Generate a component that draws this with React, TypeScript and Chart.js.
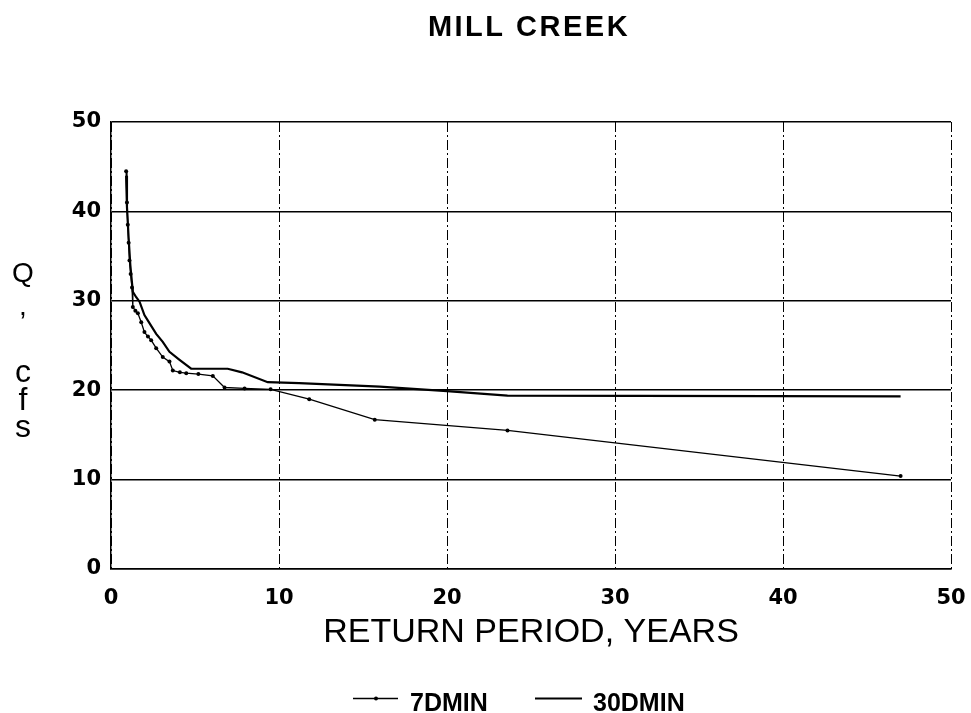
import React, { useEffect, useRef } from "react";
import { Chart, registerables } from "chart.js";

Chart.register(...registerables);

const TITLE = "MILL CREEK";
const X_TITLE = "RETURN PERIOD, YEARS";
const Y_LABEL = ["Q", ",", "c", "f", "s"];
const SERIES_NAMES = ["7DMIN", "30DMIN"];

const X_TICKS = [0, 10, 20, 30, 40, 50];
const Y_TICKS = [0, 10, 20, 30, 40, 50];

// 7DMIN (thin line with dot markers)
const x7 = [0.9, 0.95, 1.0, 1.05, 1.1, 1.17, 1.25, 1.3, 1.45, 1.6, 1.8, 1.99, 2.2, 2.39, 2.69, 3.08, 3.48, 3.68, 4.1, 4.48, 5.2, 6.06, 6.76, 7.95, 9.5, 11.8, 15.7, 23.6, 47.0];
const y7 = [44.5, 41.0, 38.5, 36.5, 34.5, 33.0, 31.5, 29.3, 28.9, 28.6, 27.6, 26.5, 26.0, 25.6, 24.7, 23.7, 23.2, 22.2, 22.0, 21.9, 21.8, 21.6, 20.3, 20.2, 20.1, 19.0, 16.7, 15.5, 10.4];

// 30DMIN (thicker plain line)
const x30 = [0.9, 0.95, 1.05, 1.15, 1.3, 1.5, 1.7, 1.99, 2.29, 2.69, 3.08, 3.48, 4.08, 4.77, 5.9, 6.95, 7.8, 9.33, 11.2, 16.0, 20.0, 23.6, 47.0];
const y30 = [44.0, 40.5, 37.0, 34.0, 31.0, 30.4, 29.9, 28.4, 27.5, 26.3, 25.4, 24.3, 23.4, 22.4, 22.4, 22.4, 22.0, 20.9, 20.8, 20.4, 19.9, 19.4, 19.3];

const FONT = "'Liberation Sans', Arial, Helvetica, sans-serif";
const TICK_FONT = "'DejaVu Sans', 'Liberation Sans', sans-serif";

const textPlugin = {
  id: "textPlugin",
  afterDraw(chart: any) {
    const ctx = chart.ctx as CanvasRenderingContext2D;
    const area = chart.chartArea;
    ctx.save();
    ctx.fillStyle = "#000";
    ctx.strokeStyle = "#000";

    // Title
    ctx.font = `bold 29px ${FONT}`;
    (ctx as any).letterSpacing = "2.5px";
    ctx.textAlign = "center";
    ctx.textBaseline = "alphabetic";
    ctx.fillText(TITLE, (area.left + area.right) / 2 - 2, 36);
    (ctx as any).letterSpacing = "0px";

    // Y label (stacked characters)
    const sizes = [28, 28, 32, 32, 32];
    const baselines = [282, 315, 381.5, 410, 436.5];
    Y_LABEL.forEach((ch, i) => {
      ctx.font = `${sizes[i]}px ${FONT}`;
      ctx.fillText(ch, 23, baselines[i]);
    });

    // Legend
    ctx.textAlign = "left";
    ctx.font = `bold 25px ${FONT}`;
    // 7DMIN
    ctx.lineWidth = 1.3;
    ctx.beginPath();
    ctx.moveTo(353, 698.5);
    ctx.lineTo(398, 698.5);
    ctx.stroke();
    ctx.beginPath();
    ctx.arc(376, 698.5, 2, 0, Math.PI * 2);
    ctx.fill();
    ctx.fillText(SERIES_NAMES[0], 410, 710.5);
    // 30DMIN
    ctx.lineWidth = 2.2;
    ctx.beginPath();
    ctx.moveTo(535, 698.5);
    ctx.lineTo(582, 698.5);
    ctx.stroke();
    ctx.fillText(SERIES_NAMES[1], 593, 710.5);

    ctx.restore();
  },
};

export default function App() {
  const ref = useRef<HTMLCanvasElement | null>(null);

  useEffect(() => {
    if (!ref.current) return;
    const chart = new Chart(ref.current, {
      type: "line",
      data: {
        datasets: [
          {
            label: SERIES_NAMES[0],
            data: x7.map((x, i) => ({ x, y: y7[i] })),
            borderColor: "#000",
            backgroundColor: "#000",
            borderWidth: 1.3,
            pointRadius: 2,
            pointBorderWidth: 0,
            pointBackgroundColor: "#000",
            tension: 0,
          },
          {
            label: SERIES_NAMES[1],
            data: x30.map((x, i) => ({ x, y: y30[i] })),
            borderColor: "#000",
            backgroundColor: "#000",
            borderWidth: 2.2,
            pointRadius: 0,
            tension: 0,
          },
        ],
      },
      options: {
        animation: false,
        responsive: false,
        maintainAspectRatio: false,
        layout: { padding: { top: 122, left: 0, right: 20, bottom: 56 } },
        plugins: {
          legend: { display: false },
          title: { display: false },
          tooltip: { enabled: false },
        },
        scales: {
          x: {
            type: "linear",
            min: 0,
            max: 50,
            afterBuildTicks: (s: any) => {
              s.ticks = X_TICKS.map((v) => ({ value: v }));
            },
            afterFit: (s: any) => {
              s.height = 88;
              s.paddingLeft = 0;
              s.paddingRight = 0;
            },
            ticks: {
              color: "#000",
              padding: 17,
              maxRotation: 0,
              font: { family: TICK_FONT, size: 21, weight: "bold" },
            },
            grid: {
              color: "#000",
              lineWidth: 1,
              drawTicks: false,
            },
            border: { display: true, color: "#000", width: 1.5, dash: [10, 3, 2, 3] },
            title: {
              display: true,
              text: X_TITLE,
              color: "#000",
              font: { family: FONT, size: 34 },
              padding: { top: 0, bottom: 4 },
            },
          },
          y: {
            type: "linear",
            min: 0,
            max: 50,
            afterBuildTicks: (s: any) => {
              s.ticks = Y_TICKS.map((v) => ({ value: v }));
            },
            afterFit: (s: any) => {
              s.width = 111;
              s.paddingTop = 0;
              s.paddingBottom = 0;
            },
            ticks: {
              color: "#000",
              padding: 10,
              font: { family: TICK_FONT, size: 21, weight: "bold" },
            },
            grid: {
              color: "#000",
              lineWidth: 1.6,
              drawTicks: false,
            },
            border: { display: true, color: "#000", width: 1.5 },
          },
        },
      },
      plugins: [textPlugin],
    } as any);
    return () => chart.destroy();
  }, []);

  return (
    <div style={{ position: "fixed", left: 0, top: 0, width: 971, height: 713, background: "#fff" }}>
      <canvas ref={ref} width={971} height={713} style={{ width: 971, height: 713, display: "block" }} />
    </div>
  );
}
